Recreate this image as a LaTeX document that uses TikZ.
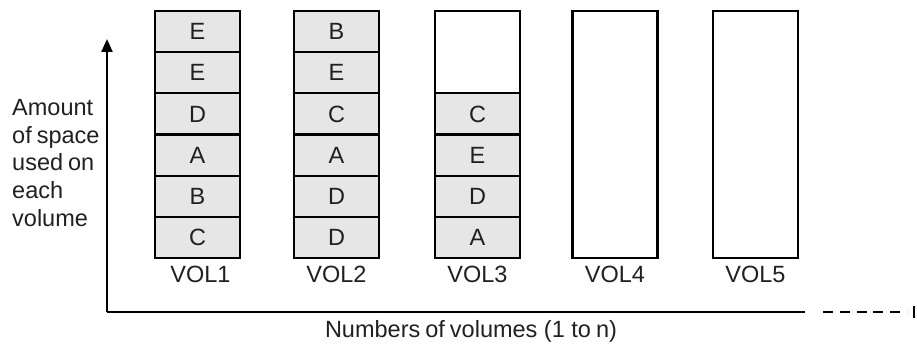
\documentclass[tikz,border=0pt]{standalone}
\usepackage{fontspec}
\setmainfont{Liberation Sans}
\usetikzlibrary{arrows.meta}
\definecolor{cellgray}{HTML}{E6E6E7}
\definecolor{ink}{HTML}{231F20}
\tikzset{
  cell/.style={draw=black, fill=cellgray, line width=2.2pt, minimum width=85pt, minimum height=41.17pt, inner sep=0pt, text=ink, font=\fontsize{23.5}{28}\selectfont},
  emptycol/.style={draw=black, fill=white, line width=2.2pt, minimum width=85pt, inner sep=0pt},
  lbl/.style={text=ink, font=\fontsize{23.5}{28}\selectfont, inner sep=0pt},
  axis/.style={line width=2.2pt, black},
}
\begin{document}
\begin{tikzpicture}[x=1pt,y=-1pt]
\useasboundingbox (0,0) rectangle (917,344);
% column 1
\foreach \t [count=\i] in {E,E,D,A,B,C} {
  \node[cell] (c1\i) at (197.5, {11+41.17*(\i-0.5)}) {\t};
}
% column 2
\foreach \t [count=\i] in {B,E,C,A,D,D} {
  \node[cell] (c2\i) at (336.5, {11+41.17*(\i-0.5)}) {\t};
}
% column 3
\node[emptycol, minimum height=82.34pt] (c3top) at (477.5, {11+41.17}) {};
\foreach \t [count=\i from 3] in {C,E,D,A} {
  \node[cell] (c3\i) at (477.5, {11+41.17*(\i-0.5)}) {\t};
}
% columns 4,5
\node[emptycol, minimum height=247pt] (c4) at (615, 134.5) {};
\node[emptycol, minimum height=247pt] (c5) at (755.5, 134.5) {};
% volume labels
\node[lbl, anchor=base] (v1) at (200.5,283) {VOL1};
\node[lbl, anchor=base] (v2) at (336.5,283) {VOL2};
\node[lbl, anchor=base] (v3) at (477.5,283) {VOL3};
\node[lbl, anchor=base] (v4) at (615,283) {VOL4};
\node[lbl, anchor=base] (v5) at (755.5,283) {VOL5};
% y label
\node[lbl, anchor=base west] (y1) at (12,116) {Amount};
\node[lbl, anchor=base west] (y2) at (12,143.5) {of\kern-1.5pt\ space};
\node[lbl, anchor=base west] (y3) at (12,171) {used\kern-1.5pt\ on};
\node[lbl, anchor=base west] (y4) at (12,199) {each};
\node[lbl, anchor=base west] (y5) at (12,227) {volume};
% x label
\node[lbl, anchor=base] (xl) at (471,337) {Numbers\kern-1.5pt\ of\kern-1.5pt\ volumes (1 to\kern-1.5pt\ n)};
% axes
\coordinate (o) at (107,312);
\coordinate (ytop) at (107,39);
\coordinate (xend) at (805,312);
\coordinate (dstart) at (823,312);
\coordinate (dend) at (907,312);
\coordinate (tk1) at (914,306);
\coordinate (tk2) at (914,318);
\draw[axis, -{Triangle[length=13pt,width=11pt]}] (o) -- (ytop);
\draw[axis] (o) -- (xend);
\draw[axis, line width=1.8pt, dash pattern=on 10pt off 6.8pt] (dstart) -- (dend);
\draw[axis, line width=1.8pt] (tk1) -- (tk2);
\end{tikzpicture}
\end{document}
